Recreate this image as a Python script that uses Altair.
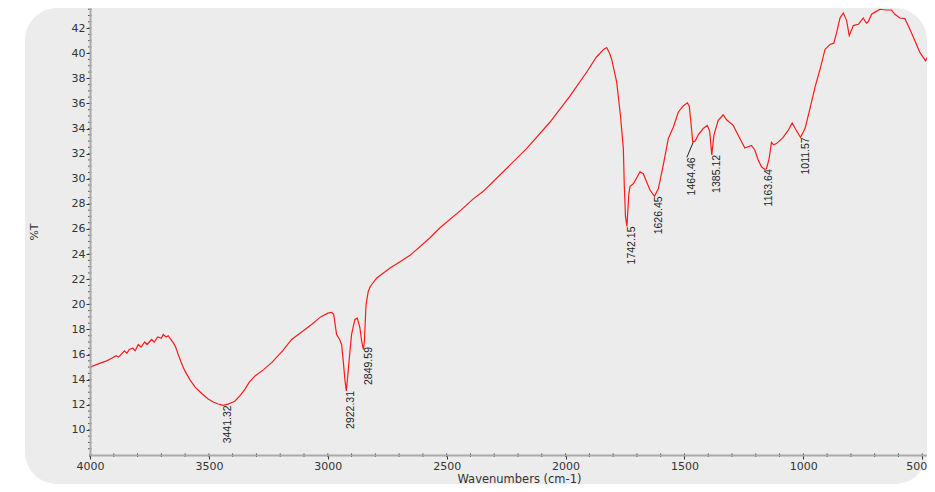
import altair as alt
import pandas as pd

# Spectrum (wavenumber cm-1, %T)
wavenumber = [4000, 3960, 3930, 3909, 3890, 3880, 3870, 3855, 3845, 3835, 3820, 3810, 3797, 3785,
              3770, 3760, 3741, 3730, 3715, 3700, 3692, 3680, 3671, 3660, 3650, 3640, 3629, 3615,
              3601, 3580, 3558, 3530, 3503, 3480, 3461, 3441, 3420, 3400, 3390, 3370, 3348, 3330,
              3306, 3270, 3236, 3190, 3152, 3110, 3068, 3030, 3000, 2984, 2975, 2963, 2950, 2942,
              2935, 2928, 2922, 2916, 2908, 2900, 2886, 2876, 2865, 2858, 2850, 2846, 2839, 2830,
              2822, 2794, 2738, 2696, 2654, 2570, 2528, 2440, 2388, 2346, 2276, 2164, 2066, 1981,
              1911, 1870, 1840, 1827, 1815, 1806, 1785, 1769, 1757, 1753, 1748, 1742, 1738, 1734,
              1729, 1715, 1700, 1687, 1673, 1659, 1645, 1626, 1610, 1589, 1568, 1547, 1526, 1505,
              1488, 1480, 1473, 1465, 1455, 1442, 1421, 1404, 1394, 1388, 1385, 1380, 1376, 1358,
              1337, 1323, 1295, 1267, 1246, 1218, 1204, 1190, 1176, 1163, 1155, 1144, 1134, 1125,
              1113, 1085, 1064, 1047, 1031, 1012, 993, 972, 951, 930, 909, 888, 872, 860, 846, 832,
              818, 807, 790, 769, 748, 735, 727, 713, 692, 678, 650, 629, 615, 594, 573, 552, 531,
              510, 486, 468, 447]
transmittance = [15.0, 15.3, 15.5, 15.7, 15.9, 15.8, 16.0, 16.3, 16.1, 16.4, 16.5, 16.3, 16.8, 16.6,
                 17.0, 16.8, 17.2, 17.0, 17.4, 17.3, 17.6, 17.4, 17.5, 17.2, 16.95, 16.6, 16.0, 15.3,
                 14.7, 14.0, 13.4, 12.9, 12.46, 12.2, 12.06, 11.95, 12.05, 12.2, 12.3, 12.7, 13.25, 13.8,
                 14.3, 14.8, 15.36, 16.3, 17.2, 17.8, 18.4, 19.0, 19.3, 19.35, 19.2, 17.6, 17.2, 16.8,
                 15.5, 14.0, 13.1, 14.3, 16.0, 17.6, 18.8, 18.9, 18.15, 17.1, 16.4, 17.1, 20.0, 21.0,
                 21.4, 22.1, 22.9, 23.4, 23.9, 25.3, 26.1, 27.5, 28.4, 29.0, 30.3, 32.4, 34.5, 36.6,
                 38.5, 39.7, 40.3, 40.45, 40.0, 39.5, 37.7, 35.0, 32.4, 29.4, 27.0, 26.2, 27.5, 28.8,
                 29.4, 29.6, 30.1, 30.55, 30.4, 29.75, 29.1, 28.6, 29.2, 31.1, 33.2, 34.1, 35.3, 35.8,
                 36.05, 35.8, 34.5, 32.9, 33.0, 33.5, 34.0, 34.25, 33.8, 32.5, 31.9, 32.8, 33.5, 34.65,
                 35.1, 34.7, 34.25, 33.2, 32.45, 32.65, 32.27, 31.5, 30.95, 30.76, 30.8, 31.6, 32.9, 32.7,
                 32.8, 33.3, 33.85, 34.45, 33.9, 33.3, 34.0, 35.6, 37.3, 38.7, 40.3, 40.7, 40.8, 41.64, 42.8, 43.2,
                 42.6, 41.4, 42.2, 42.3, 42.8, 42.4, 42.5, 43.1, 43.35, 43.5, 43.44, 43.44, 43.1, 42.8, 42.75, 41.9, 41.0,
                 40.06, 39.4, 40.06, 40.85]

# Peak labels
peak_label = ["3441.32", "2922.31", "2849.59", "1742.15", "1626.45", "1464.46", "1385.12", "1163.64", "1011.57"]
peak_wn = [3441.32, 2922.31, 2849.59, 1742.15, 1626.45, 1464.46, 1385.12, 1163.64, 1011.57]
peak_T = [11.95, 13.1, 16.4, 26.2, 28.6, 32.85, 31.9, 30.76, 33.3]
label_wn = [3441.32, 2922.31, 2849.59, 1742.15, 1626.45, 1490.0, 1385.12, 1163.64, 1011.57]
label_T = [11.95, 13.1, 16.6, 26.2, 28.6, 31.7, 31.9, 30.76, 33.3]

x_ticks = [4000, 3500, 3000, 2500, 2000, 1500, 1000, 500]
x_minor = list(range(4000, 499, -100))
y_ticks = list(range(10, 43, 2))
y_minor = [v / 2 for v in range(17, 88)]

X_DOMAIN = [4000, 480]
Y_DOMAIN = [8, 43.6]
W, H = 837, 447

xscale = alt.Scale(domain=X_DOMAIN, nice=False, zero=False)
yscale = alt.Scale(domain=Y_DOMAIN, nice=False, zero=False)
xaxis = alt.Axis(values=x_ticks, title="Wavenumbers (cm-1)", format="d", zindex=1, labelFlush=False,
                 labelOffset={"expr": "datum.value == 500 ? -6 : 0"},
                 titleX=429, titleY=27, titleBaseline="alphabetic", titleAlign="center")
yaxis = alt.Axis(values=y_ticks, title="%T", titleX=-56, titleY=H / 2, zindex=1, labelFlush=False,
                 titleAngle=270, titleAlign="center", titleBaseline="middle")


def X(field):
    return alt.X(field, type="quantitative", scale=xscale, axis=xaxis)


def Y(field):
    return alt.Y(field, type="quantitative", scale=yscale, axis=yaxis)


spec_df = pd.DataFrame({"wn": wavenumber, "T": transmittance, "idx": list(range(len(wavenumber)))})
lab_df = pd.DataFrame({"wn": label_wn, "T": label_T, "label": peak_label})
lead_df = pd.DataFrame({"wn": [peak_wn[5]], "T": [peak_T[5]], "wn2": [label_wn[5]], "T2": [label_T[5]]})
xm_df = pd.DataFrame({"wn": x_minor})
ym_df = pd.DataFrame({"T": y_minor})

panel = alt.Chart(pd.DataFrame({"a": [0]})).mark_rect(color="#ececec", cornerRadius=32).encode(
    x=alt.value(-65), x2=alt.value(W), y=alt.value(0), y2=alt.value(476)
)

line = alt.Chart(spec_df).mark_line(color="#ff1a1a", strokeWidth=1.2, clip=True).encode(
    x=X("wn"), y=Y("T"), order=alt.Order("idx:Q"),
)

xminor = alt.Chart(xm_df).mark_rule(color="#333", strokeWidth=1).encode(
    x=X("wn"), y=alt.value(H - 1.5), y2=alt.value(H + 2)
)
yminor = alt.Chart(ym_df).mark_rule(color="#555", strokeWidth=1).encode(
    y=Y("T"), x=alt.value(-2), x2=alt.value(1.5)
)

leader = alt.Chart(lead_df).mark_rule(color="#222", strokeWidth=1).encode(
    x=X("wn"), y=Y("T"), x2="wn2:Q", y2="T2:Q"
)

labels = alt.Chart(lab_df).mark_text(angle=270, align="right", baseline="top", font="Liberation Sans",
                                     fontSize=10.5, color="#222").encode(
    x=X("wn"), y=Y("T"), text="label:N"
)

chart = alt.layer(panel, line, xminor, yminor, leader, labels).properties(
    width=W, height=H,
    autosize=alt.AutoSizeParams(type="none"),
    padding={"left": 82, "top": 0, "right": 0, "bottom": 29},
    background="white",
).configure_view(stroke=None, fill=None).configure_axis(
    domainColor="#aaaaaa", domainWidth=2, tickColor="#333", tickSize=4, tickWidth=1,
    labelFont="DejaVu Sans", labelFontSize=11, labelColor="#333",
    titleFont="DejaVu Sans", titleFontSize=11, titleColor="#333", titleFontWeight="normal",
    grid=False,
).configure_axisX(labelPadding=1, titleFontSize=11.5).configure_axisY(labelPadding=1)

chart.save("out.html", embed_options={"renderer": "svg", "actions": False})
